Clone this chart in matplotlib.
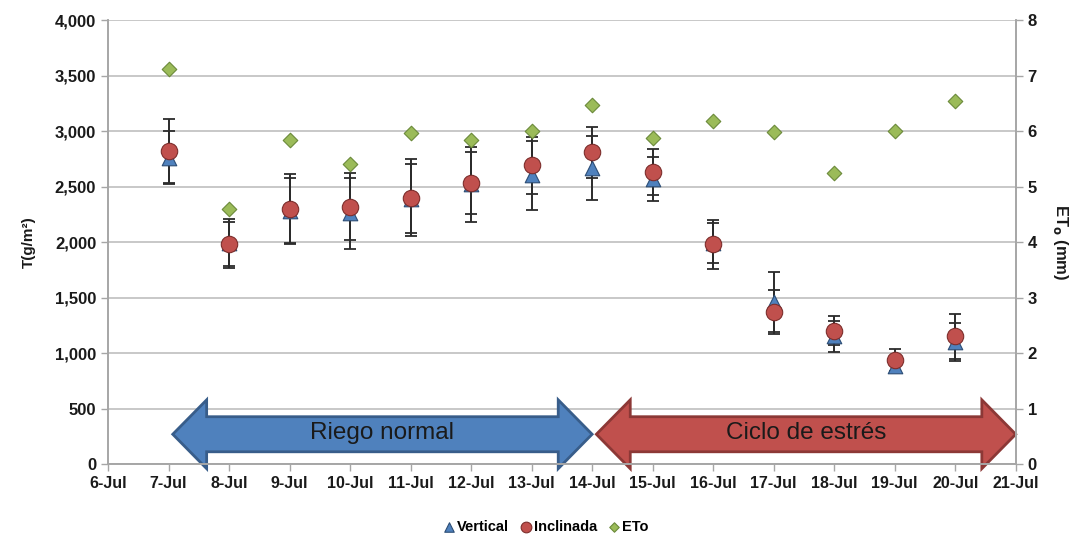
import matplotlib
matplotlib.use("Agg")
import matplotlib.pyplot as plt
import matplotlib.dates as mdates
import matplotlib.ticker as mticker
from matplotlib.patches import Polygon
import numpy as np
import pandas as pd


dates = pd.date_range("2013-07-07", "2013-07-20", freq="D")

vertical = [2760, 1990, 2280, 2260, 2390, 2520, 2600, 2670, 2570, 1990, 1460, 1150, 880, 1100]
vertical_err = [240, 220, 300, 320, 310, 340, 310, 290, 200, 180, 270, 140, 50, 170]

inclinada = [2820, 1980, 2300, 2320, 2400, 2530, 2690, 2810, 2630, 1980, 1370, 1200, 940, 1150]
inclinada_err = [290, 200, 310, 300, 350, 280, 260, 230, 210, 220, 200, 130, 100, 200]

eto = [7.12, 4.59, 5.84, 5.41, 5.96, 5.84, 6.00, 6.47, 5.87, 6.18, 5.98, 5.24, 6.00, 6.54]

phases = ["Riego normal", "Ciclo de estrés"]
phase_start = ["2013-07-07", "2013-07-14"]
phase_end = ["2013-07-14", "2013-07-21"]

font = ["Liberation Sans", "DejaVu Sans"]
plt.rcParams["font.family"] = font

fig = plt.figure(figsize=(10.91, 5.43), dpi=100)
ax = fig.add_axes([0.099, 0.1455, 0.832, 0.8175])
ax2 = ax.twinx()

x = mdates.date2num(dates)

# barras de error y marcadores
ax.errorbar(x, vertical, yerr=vertical_err, fmt="none", ecolor="#2b2b2b",
            elinewidth=1.4, capsize=4, capthick=1.3, zorder=3)
ax.errorbar(x, inclinada, yerr=inclinada_err, fmt="none", ecolor="#2b2b2b",
            elinewidth=1.4, capsize=4, capthick=1.3, zorder=3)
ax.scatter(x, vertical, marker="^", s=110, color="#4F81BD",
           edgecolor="#2c4d75", linewidth=0.8, zorder=4, label="Vertical")
ax.scatter(x, inclinada, marker="o", s=140, color="#C0504D",
           edgecolor="#7d2e2c", linewidth=0.8, zorder=5, label="Inclinada")
ax2.scatter(x, eto, marker="D", s=55, color="#9BBB59",
            edgecolor="#6b8a3a", linewidth=0.8, zorder=5, label="ETo")

# flechas de fases
arrow_styles = [("#4F81BD", "#385D8A"), ("#C0504D", "#8C3836")]
y_mid = 268
body_half = 158
head_half = 310
head_len = 0.56
for name, s, e, (fc, ec) in zip(phases, phase_start, phase_end, arrow_styles):
    x0 = mdates.date2num(pd.Timestamp(s)) + 0.07
    x1 = mdates.date2num(pd.Timestamp(e))
    pts = [
        (x0, y_mid),
        (x0 + head_len, y_mid + head_half),
        (x0 + head_len, y_mid + body_half),
        (x1 - head_len, y_mid + body_half),
        (x1 - head_len, y_mid + head_half),
        (x1, y_mid),
        (x1 - head_len, y_mid - head_half),
        (x1 - head_len, y_mid - body_half),
        (x0 + head_len, y_mid - body_half),
        (x0 + head_len, y_mid - head_half),
    ]
    ax.add_patch(Polygon(pts, closed=True, facecolor=fc, edgecolor=ec,
                         linewidth=2, clip_on=False, zorder=2))
    ax.text((x0 + x1) / 2, y_mid + 10, name, ha="center", va="center",
            fontsize=17.5, color="#1a1a1a", zorder=6, family=font)

ax.set_xlim(mdates.date2num(pd.Timestamp("2013-07-06")),
            mdates.date2num(pd.Timestamp("2013-07-21")))
ax.set_ylim(0, 4000)
ax2.set_ylim(0, 8)

ax.xaxis.set_major_locator(mdates.DayLocator())
ax.xaxis.set_major_formatter(mdates.DateFormatter("%-d-%b"))
ax.yaxis.set_major_locator(mticker.MultipleLocator(500))
ax.yaxis.set_major_formatter(mticker.FuncFormatter(lambda v, p: f"{v:,.0f}"))
ax2.yaxis.set_major_locator(mticker.MultipleLocator(1))

ax.grid(axis="y", color="#bfbfbf", linewidth=1.2)
ax.set_axisbelow(True)
for a in (ax, ax2):
    for sp in a.spines.values():
        sp.set_color("#a6a6a6")
        sp.set_linewidth(1.2)
    a.spines["top"].set_visible(False)
    a.tick_params(colors="#a6a6a6", length=5, width=1.0, labelcolor="#1a1a1a",
                  labelsize=12)
ax.tick_params(axis="x", labelsize=11.5)
for lab in ax.get_xticklabels() + ax.get_yticklabels() + ax2.get_yticklabels():
    lab.set_fontweight("bold")

ax.set_ylabel("T(g/m²)", fontsize=11, fontweight="bold", color="#1a1a1a", labelpad=14)
ax2.set_ylabel("ET$_\\mathbf{o}$ (mm)", fontsize=12, fontweight="bold",
               color="#1a1a1a", rotation=270, labelpad=24)

h1, l1 = ax.get_legend_handles_labels()
h2, l2 = ax2.get_legend_handles_labels()
fig.legend(h1 + h2, l1 + l2, loc="center", bbox_to_anchor=(0.5, 0.03), ncol=3,
           frameon=False, handlelength=0.9, handletextpad=0.1, columnspacing=0.7,
           markerscale=0.65, prop={"weight": "bold", "size": 10.5})

fig.savefig("out.png", dpi=100)
